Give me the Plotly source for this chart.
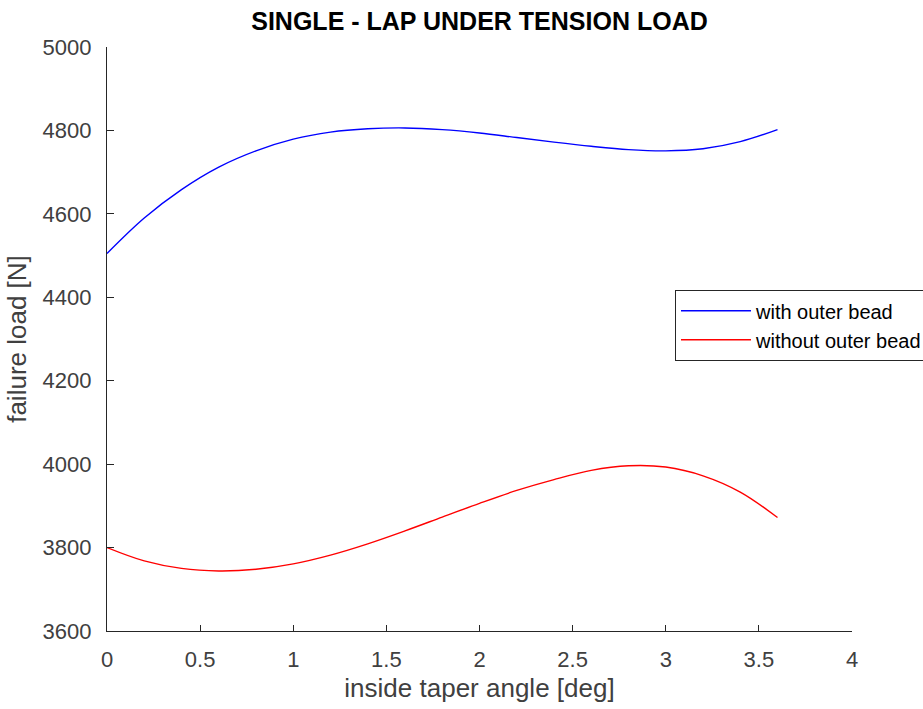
import plotly.graph_objects as go

angle = [0, 0.2, 0.4, 0.6, 0.8, 1.0, 1.2, 1.4, 1.6, 1.8, 2.0, 2.2, 2.4, 2.6, 2.8, 3.0, 3.2, 3.4, 3.6]
with_bead = [4505, 4590, 4658, 4712, 4751, 4779, 4796, 4804, 4806, 4802, 4794, 4783, 4772, 4762, 4754, 4751, 4756, 4773, 4802]
without_bead = [3800, 3768, 3750, 3744, 3748, 3761, 3782, 3809, 3840, 3873, 3906, 3937, 3963, 3985, 3996, 3993, 3972, 3933, 3872]
x_ticks = [0, 0.5, 1, 1.5, 2, 2.5, 3, 3.5, 4]
y_ticks = [3600, 3800, 4000, 4200, 4400, 4600, 4800, 5000]

FONT = "Liberation Sans, Arial, Helvetica, sans-serif"
AX = "#262626"
LBL = "#404040"

fig = go.Figure()
fig.add_trace(go.Scatter(x=angle, y=with_bead, mode="lines", name="with outer bead",
                         line=dict(color="#0000ff", width=1.4, shape="spline", smoothing=1.0)))
fig.add_trace(go.Scatter(x=angle, y=without_bead, mode="lines", name="without outer bead",
                         line=dict(color="#ff0000", width=1.4, shape="spline", smoothing=1.0)))

fig.update_layout(
    width=923, height=709,
    margin=dict(l=107, r=71, t=47, b=78, autoexpand=False),
    paper_bgcolor="white", plot_bgcolor="white",
    font=dict(family=FONT, color=AX),
    title=dict(text="<b>SINGLE - LAP UNDER TENSION LOAD</b>", x=0.5, xref="paper", xanchor="center",
               y=1 - 21 / 709, yref="container", yanchor="middle",
               font=dict(size=25, color="black", family=FONT)),
    showlegend=True,
    legend=dict(x=0.762, y=0.584, xanchor="left", yanchor="top", xref="paper", yref="paper",
                bgcolor="white", bordercolor=AX, borderwidth=1.3,
                font=dict(size=20, color="black", family=FONT), itemwidth=70,
                tracegroupgap=0),
)
fig.update_xaxes(range=[0, 4], tickvals=x_ticks, ticktext=[f"{v:g}" for v in x_ticks],
                 showgrid=False, zeroline=False, showline=True, linecolor=AX, linewidth=1.3,
                 ticks="inside", ticklen=6, tickcolor=AX, tickwidth=1.3,
                 tickfont=dict(size=22, color=LBL), ticklabelstandoff=8,
                 title=dict(text="inside taper angle [deg]", font=dict(size=26, color=LBL), standoff=8))
fig.update_yaxes(range=[3600, 5000], tickvals=y_ticks, ticktext=[str(v) for v in y_ticks],
                 showgrid=False, zeroline=False, showline=True, linecolor=AX, linewidth=1.3,
                 ticks="inside", ticklen=7, tickcolor=AX, tickwidth=1.3,
                 tickfont=dict(size=22, color=LBL), ticklabelstandoff=10,
                 title=dict(text="failure load [N]", font=dict(size=26, color=LBL), standoff=8))

fig.write_html("out.html")
